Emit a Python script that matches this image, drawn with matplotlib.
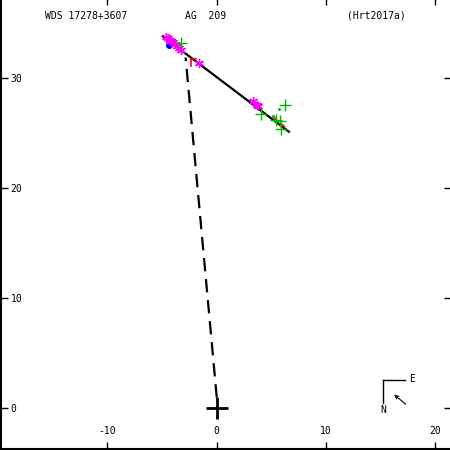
import matplotlib
matplotlib.use("Agg")
import matplotlib.pyplot as plt
from matplotlib.lines import Line2D

# ---- data ----
x_ticks = [-10, 0, 10, 20]
y_ticks = [0, 10, 20, 30]
x_tick_labels = ["-10", "0", "10", "20"]
y_tick_labels = ["0", "10", "20", "30"]

orbit_x = [-5.03, 6.68]
orbit_y = [33.9, 25.1]

node_x = [0.0, -2.85]
node_y = [1.0, 31.9]

mag_x = [-4.67, -4.45, -4.3, -4.15, -4.0, -3.84, -3.65, -3.45, -3.3, -1.65, 3.29, 3.7, 3.8]
mag_y = [33.8, 33.65, 33.5, 33.4, 33.3, 33.1, 32.95, 32.8, 32.6, 31.4, 27.95, 27.6, 27.5]

grn_x = [-3.29, 6.22, 4.03, 5.45, 5.76, 5.86]
grn_y = [33.2, 27.6, 26.8, 26.2, 26.1, 25.45]

dot_x = [5.67, 5.1]
dot_y = [27.2, 26.6]

blue_x = [-4.39]
blue_y = [33.0]

red_seg_x = [[-2.35, -2.35], [-2.35, -1.9], [5.2, 5.4], [5.9, 6.2]]
red_seg_y = [[31.8, 31.1], [31.8, 31.8], [26.5, 26.3], [25.9, 25.6]]

title_texts = ["WDS 17278+3607", "AG  209", "(Hrt2017a)"]

# ---- figure ----
fig = plt.figure(figsize=(4.5, 4.5), dpi=100)
ax = fig.add_axes([1/450, 1.5/450, 1, 1])
ax.set_xlim(-19.74, 21.43)
ax.set_ylim(-3.64, 37.27)
for s in ["top", "right"]:
    ax.spines[s].set_visible(False)
for s in ["left", "bottom"]:
    ax.spines[s].set_linewidth(1.5)

mono = "DejaVu Sans Mono"
ax.set_xticks(x_ticks)
ax.set_yticks(y_ticks)
ax.set_xticklabels(x_tick_labels, family=mono, fontsize=7)
ax.set_yticklabels(y_tick_labels, family=mono, fontsize=7)
ax.tick_params(direction="in", length=5, width=1, top=True, right=True)
ax.tick_params(axis="y", pad=-7)
ax.tick_params(axis="x", pad=-9)
for lab in ax.get_yticklabels():
    lab.set_ha("left")
for lab in ax.get_xticklabels():
    lab.set_va("bottom")

# orbit
ax.plot(orbit_x, orbit_y, color="black", lw=1.6, solid_capstyle="butt", zorder=3)
# line of nodes (dashed)
ax.plot(node_x, node_y, color="black", lw=1.6, dashes=(6, 3.5), zorder=2)

# residual segments
for sx, sy in zip(red_seg_x, red_seg_y):
    ax.plot(sx, sy, color="red", lw=1.2, zorder=4)

# observations
ax.plot(mag_x, mag_y, ls="none", marker=(6, 2, 0), color="#ff00ff", ms=6.5, mew=1, zorder=5)
ax.plot(grn_x, grn_y, ls="none", marker="+", color="#00b400", ms=8, mew=1, zorder=5)
ax.plot(dot_x, dot_y, ls="none", marker="s", color="#00b400", ms=1, zorder=5)
ax.plot(blue_x, blue_y, ls="none", marker="o", color="#0000ff", ms=4, zorder=4)

# primary
ax.plot([0], [0], marker="+", color="black", ms=16, mew=2, zorder=6)

# titles
for t, px in zip(title_texts, [45, 185, 347]):
    fig.text(px / 450, 1 - 16 / 450, t, family=mono, fontsize=7, va="center", ha="left")

# compass
cx, cy = 383 / 450, 1 - 380 / 450
fig.add_artist(Line2D([cx, 405 / 450], [cy, cy], color="black", lw=1, transform=fig.transFigure))
fig.add_artist(Line2D([cx, cx], [cy, 1 - 403 / 450], color="black", lw=1, transform=fig.transFigure))
fig.text(409 / 450, cy + 0.002, "E", family=mono, fontsize=7, va="center", ha="left")
fig.text(cx, 1 - 410 / 450, "N", family=mono, fontsize=7, va="center", ha="center")
ax.annotate("", xy=(392 / 450, 1 - 393 / 450), xytext=(408 / 450, 1 - 406 / 450),
            xycoords="figure fraction", textcoords="figure fraction",
            arrowprops=dict(arrowstyle="->", lw=0.8, color="black", mutation_scale=6))

fig.savefig("out.png", dpi=100)
